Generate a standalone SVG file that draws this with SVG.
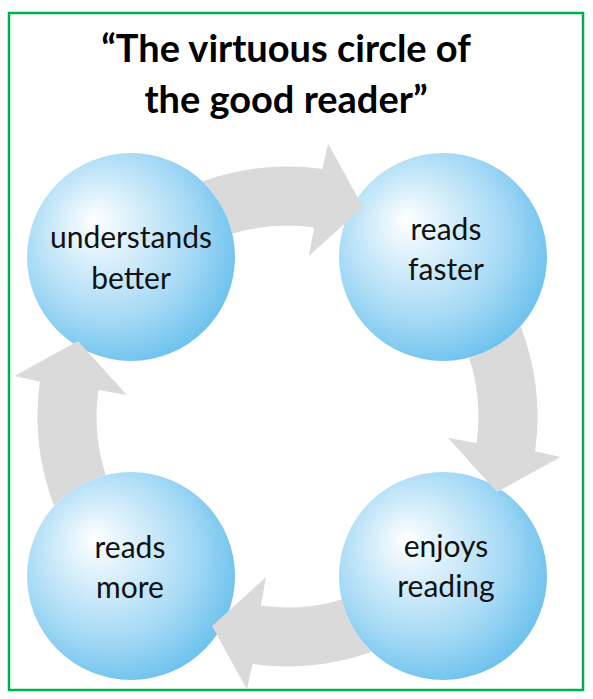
<svg xmlns="http://www.w3.org/2000/svg" width="593" height="699" viewBox="0 0 593 699">
<style>
.title{font-family:"Lato","Liberation Sans",sans-serif;font-weight:bold;font-size:38px;fill:#000;text-anchor:middle}
.lbl{font-family:"Lato","Liberation Sans",sans-serif;font-size:30px;fill:#111;text-anchor:middle}
.ball{fill:url(#ballGrad)}
.arrow{fill:#dadada}
</style>
<defs>
<radialGradient id="ballGrad" cx="0.42" cy="0.42" r="0.6" fx="0.32" fy="0.32">
<stop offset="0" stop-color="#ffffff"/>
<stop offset="0.3" stop-color="#d8effb"/>
<stop offset="0.7" stop-color="#a4d9f5"/>
<stop offset="1" stop-color="#70c3ee"/>
</radialGradient>
<mask id="mTR" maskUnits="userSpaceOnUse" x="0" y="0" width="593" height="699"><rect width="593" height="699" fill="#fff"/><circle cx="443" cy="257" r="104" fill="#000"/></mask>
<mask id="mTL" maskUnits="userSpaceOnUse" x="0" y="0" width="593" height="699"><rect width="593" height="699" fill="#fff"/><circle cx="131" cy="257" r="104" fill="#000"/></mask>
<mask id="mBR" maskUnits="userSpaceOnUse" x="0" y="0" width="593" height="699"><rect width="593" height="699" fill="#fff"/><circle cx="443" cy="576" r="104" fill="#000"/></mask>
<mask id="mBL" maskUnits="userSpaceOnUse" x="0" y="0" width="593" height="699"><rect width="593" height="699" fill="#fff"/><circle cx="131" cy="576" r="104" fill="#000"/></mask>
<path id="arrowShape" d="M444,307 A191,191 0 0 1 476.6,443.1 L448.1,437.9 L497,492 L560.5,457.1 L535.1,451.3 A250,250 0 0 0 492.3,273.1 Z"/>
</defs>
<rect x="0" y="0" width="593" height="699" fill="#fff"/>
<rect x="9" y="13" width="574" height="677" fill="none" stroke="#00b050" stroke-width="2.5"/>
<g id="title">
<text class="title" x="286" y="62">“The virtuous circle of</text>
<text class="title" x="286" y="113">the good reader”</text>
</g>
<g id="node-understands">
<circle class="ball" cx="131" cy="257" r="104"/>
<text class="lbl" x="131" y="248">understands</text>
<text class="lbl" x="131" y="289">better</text>
</g>
<g id="node-faster">
<circle class="ball" cx="443" cy="257" r="104"/>
<text class="lbl" x="446" y="240">reads</text>
<text class="lbl" x="446" y="280">faster</text>
</g>
<g id="node-enjoys">
<circle class="ball" cx="443" cy="576" r="104"/>
<text class="lbl" x="446" y="557">enjoys</text>
<text class="lbl" x="446" y="597">reading</text>
</g>
<g id="node-more">
<circle class="ball" cx="131" cy="576" r="104"/>
<text class="lbl" x="130" y="558">reads</text>
<text class="lbl" x="130" y="598">more</text>
</g>
<g id="connectors">
<g mask="url(#mTL)"><use href="#arrowShape" class="arrow" transform="rotate(-90 287.5 416.5)"/></g>
<g mask="url(#mTR)"><use href="#arrowShape" class="arrow"/></g>
<g mask="url(#mBR)"><use href="#arrowShape" class="arrow" transform="rotate(90 287.5 416.5)"/></g>
<g mask="url(#mBL)"><use href="#arrowShape" class="arrow" transform="rotate(180 287.5 416.5)"/></g>
</g>
</svg>
